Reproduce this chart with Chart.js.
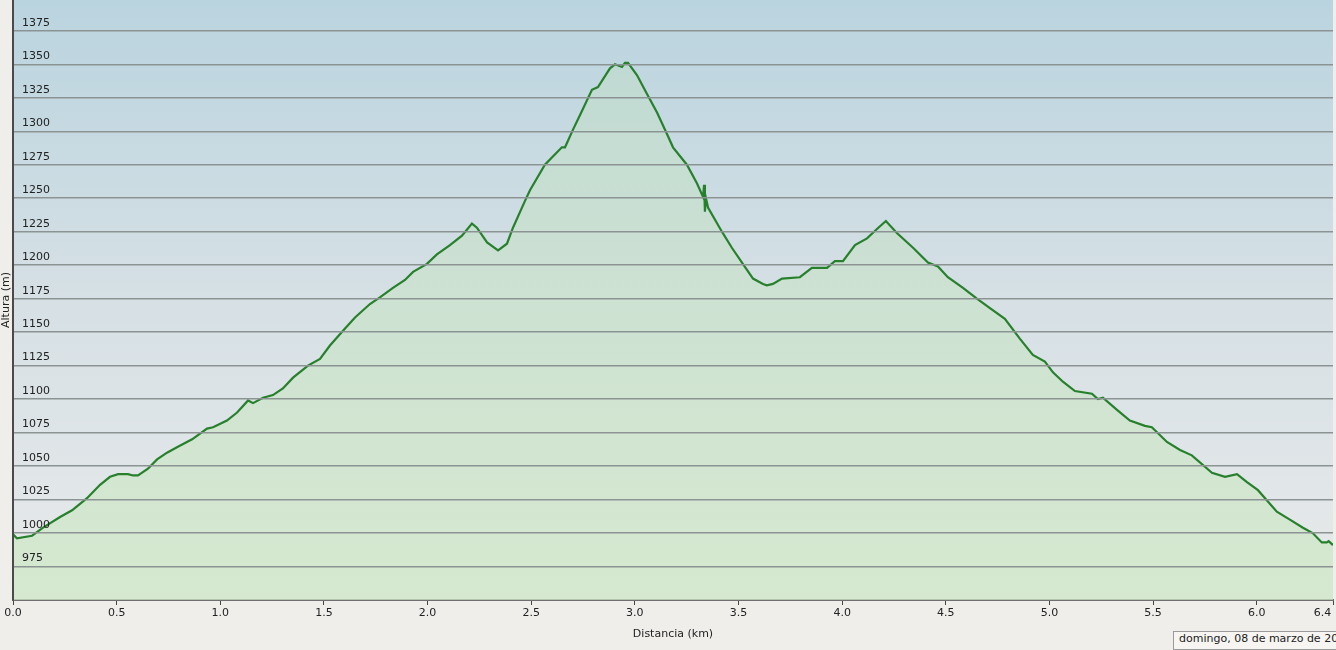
<!DOCTYPE html>
<html>
<head>
<meta charset="utf-8">
<script src="https://cdn.jsdelivr.net/npm/chart.js@4/dist/chart.umd.min.js"></script>
<style>
  html, body { margin: 0; padding: 0; background: #f0eeeb; overflow: hidden; }
  #wrap { position: relative; width: 1336px; height: 650px; }
  #fecha {
    position: absolute; left: 1173px; top: 631px; height: 17px; line-height: 17px;
    padding: 0 5px; border: 1px solid #9a9a9a; background: #f6f5f2;
    font: 11px "DejaVu Sans", sans-serif; color: #222; white-space: nowrap;
  }
</style>
</head>
<body>
<div id="wrap">
  <canvas id="perfil" width="1336" height="650"></canvas>
  <div id="fecha">domingo, 08 de marzo de 2015</div>
</div>
<script>
const distKm = [0.000, 0.019, 0.092, 0.145, 0.227, 0.285, 0.357, 0.420, 0.468, 0.507,
  0.555, 0.579, 0.603, 0.651, 0.695, 0.743, 0.791, 0.864, 0.936, 0.965,
  1.032, 1.081, 1.134, 1.158, 1.206, 1.254, 1.302, 1.351, 1.423, 1.481,
  1.529, 1.592, 1.650, 1.722, 1.770, 1.833, 1.891, 1.930, 1.997, 2.045,
  2.108, 2.166, 2.214, 2.238, 2.287, 2.340, 2.383, 2.412, 2.470, 2.494,
  2.566, 2.648, 2.663, 2.701, 2.735, 2.793, 2.822, 2.880, 2.904, 2.938,
  2.952, 2.967, 3.010, 3.058, 3.107, 3.155, 3.184, 3.251, 3.300, 3.329,
  3.334, 3.338, 3.343, 3.353, 3.420, 3.468, 3.521, 3.570, 3.618, 3.637,
  3.666, 3.710, 3.796, 3.854, 3.927, 3.965, 4.004, 4.062, 4.120, 4.168,
  4.211, 4.264, 4.342, 4.414, 4.462, 4.510, 4.583, 4.650, 4.713, 4.785,
  4.858, 4.920, 4.978, 5.017, 5.065, 5.123, 5.205, 5.234, 5.258, 5.326,
  5.388, 5.461, 5.494, 5.567, 5.630, 5.687, 5.784, 5.847, 5.905, 5.953,
  6.006, 6.097, 6.160, 6.223, 6.270, 6.314, 6.338, 6.347, 6.368];
const altM = [999, 996, 998, 1004, 1012, 1017, 1026, 1036, 1042, 1044,
  1044, 1043, 1043, 1048, 1055, 1060, 1064, 1070, 1078, 1079,
  1084, 1090, 1099, 1097, 1101, 1103, 1108, 1116, 1125, 1130,
  1140, 1151, 1161, 1171, 1176, 1183, 1189, 1195, 1201, 1208,
  1215, 1222, 1231, 1228, 1217, 1211, 1216, 1228, 1248, 1256,
  1275, 1288, 1288, 1301, 1312, 1331, 1333, 1347, 1350, 1348,
  1351, 1351, 1342, 1328, 1314, 1298, 1288, 1275, 1261, 1251,
  1260, 1240, 1250, 1243, 1225, 1213, 1201, 1190, 1186, 1185,
  1186, 1190, 1191, 1198, 1198, 1203, 1203, 1215, 1220, 1227,
  1233, 1224, 1213, 1202, 1199, 1191, 1183, 1175, 1168, 1160,
  1145, 1133, 1128, 1120, 1113, 1106, 1104, 1100, 1101, 1092,
  1084, 1080, 1079, 1068, 1062, 1058, 1045, 1042, 1044, 1038,
  1032, 1016, 1010, 1004, 1000, 993, 993, 994, 991];
const xTicks = [0, 0.5, 1.0, 1.5, 2.0, 2.5, 3.0, 3.5, 4.0, 4.5, 5.0, 5.5, 6.0, 6.368];
const yTicks = [975, 1000, 1025, 1050, 1075, 1100, 1125, 1150, 1175, 1200,
  1225, 1250, 1275, 1300, 1325, 1350, 1375];

const fuente = '"DejaVu Sans", sans-serif';

const fondoArea = {
  id: 'fondoArea',
  beforeDraw(chart) {
    const { ctx, chartArea: a } = chart;
    const g = ctx.createLinearGradient(0, a.top, 0, a.bottom);
    g.addColorStop(0, '#bad4df');
    g.addColorStop(0.5, '#d6e0e5');
    g.addColorStop(1, '#e8eaea');
    ctx.save();
    ctx.fillStyle = g;
    ctx.fillRect(a.left, a.top, a.right - a.left, a.bottom - a.top);
    ctx.restore();
  }
};

function rellenoVerde(c) {
  const a = c.chart.chartArea;
  if (!a) return 'rgba(180,220,170,0.5)';
  const g = c.chart.ctx.createLinearGradient(0, a.top, 0, a.bottom);
  g.addColorStop(0, 'rgba(190,222,190,0.35)');
  g.addColorStop(1, 'rgba(205,232,196,0.7)');
  return g;
}

new Chart(document.getElementById('perfil'), {
  type: 'line',
  data: {
    datasets: [{
      data: distKm.map((d, i) => ({ x: d, y: altM[i] })),
      borderColor: '#27802b',
      borderWidth: 2.2,
      backgroundColor: rellenoVerde,
      fill: 'start',
      pointRadius: 0,
      tension: 0
    }]
  },
  options: {
    responsive: false,
    animation: false,
    devicePixelRatio: 1,
    layout: { padding: { top: 0, right: 3, left: 0, bottom: 0 } },
    plugins: { legend: { display: false }, tooltip: { enabled: false } },
    scales: {
      x: {
        type: 'linear',
        min: 0,
        max: 6.368,
        afterBuildTicks: s => { s.ticks = xTicks.map(v => ({ value: v })); },
        afterFit: s => { s.height = 50; s.paddingLeft = 0; s.paddingRight = 0; },
        grid: { drawOnChartArea: false, drawTicks: true, tickLength: 5, color: '#444' },
        border: { color: '#6f6f6f', width: 2 },
        ticks: {
          autoSkip: false, maxRotation: 0, padding: 2, color: '#222',
          font: { family: fuente, size: 11 },
          // el ultimo rotulo queda pegado al borde derecho
          callback: (v, i) => i === xTicks.length - 1 ? v.toFixed(1) + '      ' : v.toFixed(1)
        },
        title: {
          display: true, text: 'Distancia (km)', color: '#222',
          font: { family: fuente, size: 11 }, padding: { top: 2, bottom: 9 }
        }
      },
      y: {
        min: 950,
        max: 1398,
        afterBuildTicks: s => { s.ticks = yTicks.map(v => ({ value: v })); },
        afterFit: s => { s.width = 13; s.paddingTop = 0; s.paddingBottom = 0; },
        grid: { color: '#8b9393', lineWidth: 1.5, drawTicks: false, z: 1 },
        border: { color: '#4a4a4a', width: 2, z: 1 },
        ticks: {
          mirror: true, padding: 9, labelOffset: -8, color: '#222', z: 1,
          font: { family: fuente, size: 11 },
          callback: v => String(v)
        },
        title: {
          display: true, text: 'Altura (m)', color: '#222',
          font: { family: fuente, size: 11 }, padding: 0
        }
      }
    }
  },
  plugins: [fondoArea]
});
</script>
</body>
</html>
